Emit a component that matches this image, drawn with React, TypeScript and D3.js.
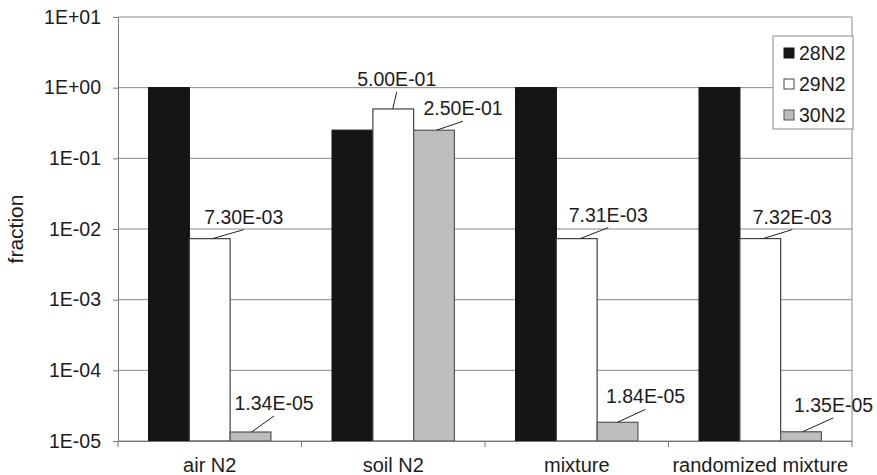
import React, { useEffect, useRef } from "react";
import * as d3 from "d3";

const categories = ["air N2", "soil N2", "mixture", "randomized mixture"];
const seriesNames = ["28N2", "29N2", "30N2"];
const n28 = [1, 0.25, 1, 1];
const n29 = [7.3e-3, 5.0e-1, 7.31e-3, 7.32e-3];
const n30 = [1.34e-5, 2.5e-1, 1.84e-5, 1.35e-5];
const yTicks = [1e-5, 1e-4, 1e-3, 1e-2, 1e-1, 1, 10];

// which bars carry a value label, with text offset (dx, dy) from bar centre / top
const labelled = [
  { s: 1, c: 0, dx: 34, dy: -15, lx: 2.5, ly: -9 },
  { s: 2, c: 0, dx: 23.5, dy: -22, lx: 1, ly: -16 },
  { s: 1, c: 1, dx: 3.5, dy: -23, lx: -0.5, ly: -16 },
  { s: 2, c: 1, dx: 29, dy: -15, lx: 2.5, ly: -8.5 },
  { s: 1, c: 2, dx: 31.5, dy: -17, lx: 3.5, ly: -10 },
  { s: 2, c: 2, dx: 28, dy: -19, lx: 0, ly: -11 },
  { s: 1, c: 3, dx: 32, dy: -15, lx: 3, ly: -8 },
  { s: 2, c: 3, dx: 32.5, dy: -20, lx: 1.5, ly: -10 },
];

const fills = ["#151515", "#ffffff", "#bdbdbd"];
const strokes = ["#151515", "#444444", "#555555"];
const font = "'Liberation Sans', Arial, sans-serif";

function expFmt(v: number, digits: number) {
  const [m, e] = v.toExponential(digits).split("e");
  const n = parseInt(e, 10);
  return `${m}E${n < 0 ? "-" : "+"}${String(Math.abs(n)).padStart(2, "0")}`;
}

export default function App() {
  const ref = useRef<SVGSVGElement>(null);

  useEffect(() => {
    const svg = d3.select(ref.current);
    svg.selectAll("*").remove();

    const left = 118, top = 17, right = 852, bottom = 441;
    const values = [n28, n29, n30];

    const x = d3.scaleBand().domain(categories).range([left, right]).padding(0);
    const bw = x.bandwidth();
    const x1 = d3.scaleBand().domain(seriesNames).range([bw / 6, (bw * 5) / 6]).padding(0);
    const y = d3.scaleLog().domain([1e-5, 10]).range([bottom, top]);

    // grid
    svg.append("g").selectAll("line").data(yTicks).enter().append("line")
      .attr("x1", left).attr("x2", right)
      .attr("y1", d => y(d)).attr("y2", d => y(d))
      .attr("stroke", "#8a8a8a").attr("stroke-width", 1);
    // right border
    svg.append("line").attr("x1", right).attr("x2", right).attr("y1", top).attr("y2", bottom)
      .attr("stroke", "#8a8a8a");

    // bars
    const groups = svg.append("g").selectAll("g").data(categories).enter().append("g")
      .attr("transform", d => `translate(${x(d)},0)`);
    groups.selectAll("rect").data((_, ci) => seriesNames.map((s, si) => ({ s, si, v: values[si][ci] })))
      .enter().append("rect")
      .attr("x", d => x1(d.s)!)
      .attr("width", x1.bandwidth())
      .attr("y", d => y(d.v))
      .attr("height", d => bottom - y(d.v))
      .attr("fill", d => fills[d.si])
      .attr("stroke", d => strokes[d.si])
      .attr("stroke-width", 1.2);

    // y axis
    const yAxis = d3.axisLeft(y).tickValues(yTicks).tickFormat(d => expFmt(+d, 0))
      .tickSize(5).tickSizeOuter(0).tickPadding(12);
    const ga = svg.append("g").attr("transform", `translate(${left},0)`).call(yAxis);
    ga.selectAll("path,line").attr("stroke", "#777");
    ga.selectAll("text").attr("font-size", 19.5).attr("font-family", font).attr("fill", "#1c1c1c");

    // x axis
    const xAxis = d3.axisBottom(x).tickSize(0).tickSizeOuter(0).tickPadding(17);
    const gx = svg.append("g").attr("transform", `translate(0,${bottom})`).call(xAxis);
    gx.select("path").attr("stroke", "#777");
    gx.selectAll("text").attr("font-size", 20).attr("font-family", font).attr("fill", "#1c1c1c")
      .attr("dy", "0.71em");
    const bounds = [...categories.map(c => x(c)!), right];
    svg.append("g").selectAll("line").data(bounds).enter().append("line")
      .attr("x1", d => d).attr("x2", d => d).attr("y1", bottom).attr("y2", bottom + 6)
      .attr("stroke", "#777");

    // value labels
    const lab = svg.append("g");
    labelled.forEach(l => {
      const v = values[l.s][l.c];
      const cx = x(categories[l.c])! + x1(seriesNames[l.s])! + x1.bandwidth() / 2;
      const ty = y(v);
      lab.append("line")
        .attr("x1", cx + l.lx).attr("y1", ty)
        .attr("x2", cx + l.dx).attr("y2", ty + l.dy + 6)
        .attr("stroke", "#222").attr("stroke-width", 1);
      lab.append("text")
        .attr("x", cx + l.dx).attr("y", ty + l.dy)
        .attr("text-anchor", "middle")
        .attr("font-size", 19.5).attr("font-family", font).attr("fill", "#1c1c1c")
        .text(expFmt(v, 2));
    });

    // y title
    svg.append("text")
      .attr("transform", "translate(23,229) rotate(-90)")
      .attr("text-anchor", "middle")
      .attr("font-size", 21).attr("font-family", font).attr("fill", "#1c1c1c")
      .text("fraction");

    // legend
    const lg = svg.append("g").attr("transform", "translate(773,36)");
    lg.append("rect").attr("width", 80).attr("height", 93).attr("fill", "#fff")
      .attr("stroke", "#8a8a8a");
    const items = lg.selectAll("g").data(seriesNames).enter().append("g")
      .attr("transform", (_, i) => `translate(0,${17 + i * 31})`);
    items.append("rect").attr("x", 11).attr("y", -5).attr("width", 10).attr("height", 10)
      .attr("fill", (_, i) => fills[i]).attr("stroke", (_, i) => strokes[i]);
    items.append("text").attr("x", 26).attr("y", 7)
      .attr("font-size", 19.5).attr("font-family", font).attr("fill", "#1c1c1c")
      .text(d => d);
  }, []);

  return (
    <svg ref={ref} width={877} height={475}
      style={{ position: "absolute", left: 0, top: 0, background: "#fff" }} />
  );
}
